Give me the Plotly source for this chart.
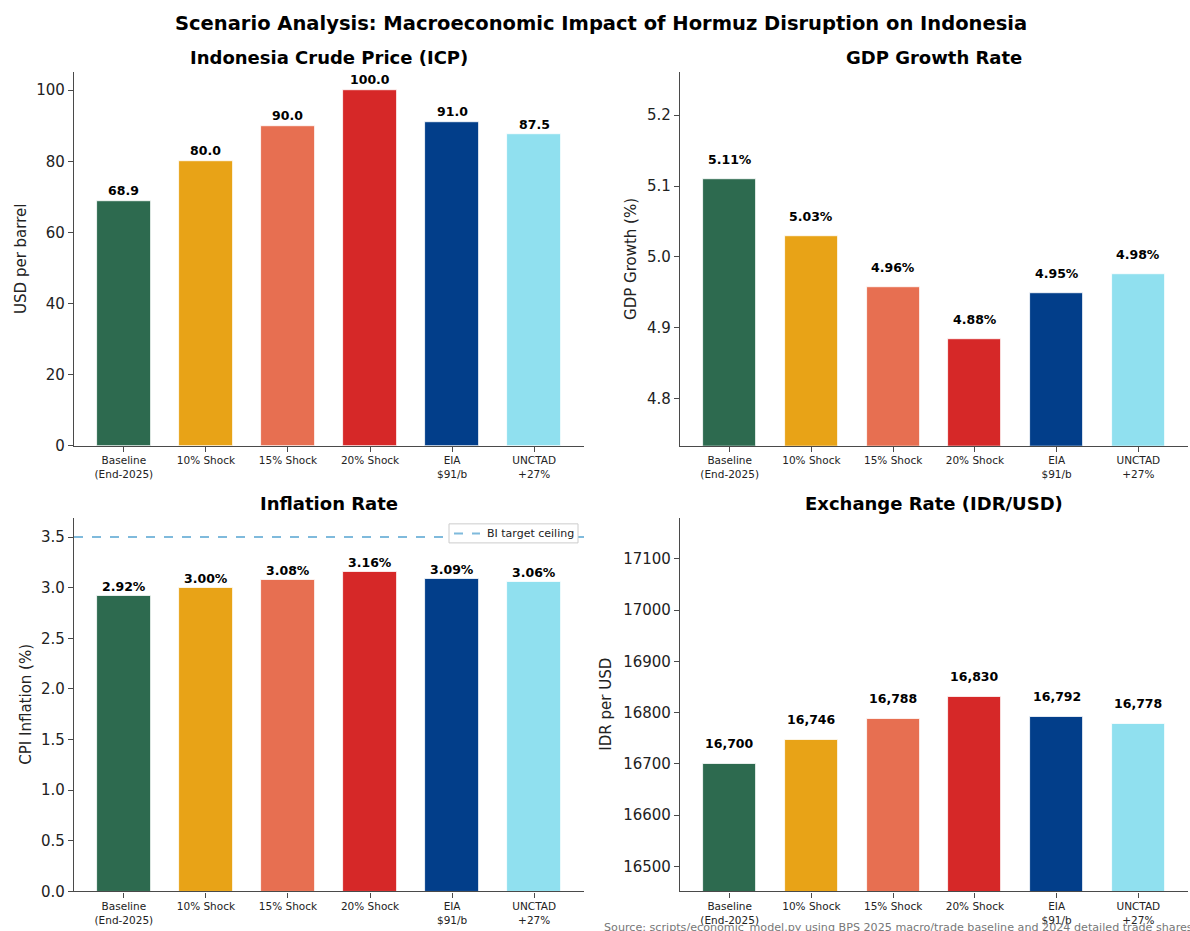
import plotly.graph_objects as go

# Scenario labels and colours
scenarios = ["Baseline<br>(End-2025)", "10% Shock", "15% Shock", "20% Shock", "EIA<br>$91/b", "UNCTAD<br>+27%"]
colors = ["#2d6a4f", "#e8a317", "#e76f51", "#d62828", "#023e8a", "#90e0ef"]

# Model outputs per scenario
icp_price = [68.9, 80.0, 90.0, 100.0, 91.0, 87.5]
gdp_growth = [5.110, 5.030, 4.957, 4.884, 4.949, 4.976]
inflation = [2.92, 3.00, 3.08, 3.16, 3.09, 3.06]
fx_rate = [16700, 16746, 16788, 16830, 16792, 16778]
bi_target_ceiling = 3.5
bi_target_name = "BI target ceiling"

W, H = 1190, 942
VSCALE = 0.9888
FONT = "DejaVu Sans"
AXIS_COLOR = "#4a4a4a"
TARGET_COLOR = "#7fbadc"


def px_x(p):
    return p / W


def px_y(p):
    return 1 - (p / VSCALE) / H


xs = list(range(len(scenarios)))

fig = go.Figure()

panels = [
    # (values, axis suffix, x domain px, y domain px, y range, tick format, label fmt, label shift, title, y title, y title x px)
    (icp_price, "", (74, 584), (72, 445), [0, 105.07], "d", lambda v: f"{v:.1f}", 1,
     "Indonesia Crude Price (ICP)", "USD per barrel", 21),
    (gdp_growth, "2", (680, 1188), (72, 445), [4.7336, 5.2608], ".1f", lambda v: f"{v:.2f}%", 10,
     "GDP Growth Rate", "GDP Growth (%)", 631),
    (inflation, "3", (74, 584), (517, 890), [0, 3.69], ".1f", lambda v: f"{v:.2f}%", 0,
     "Inflation Rate", "CPI Inflation (%)", 26),
    (fx_rate, "4", (680, 1188), (517, 890), [16451, 17180], "d", lambda v: f"{v:,.0f}", 11,
     "Exchange Rate (IDR/USD)", "IDR per USD", 606),
]

annotations = []
for vals, sfx, (x0, x1), (ytop, ybot), yr, tfmt, fmt, shift, title, ytitle, ytx in panels:
    xa = "x" + sfx
    ya = "y" + sfx
    fig.add_trace(go.Bar(
        x=xs, y=vals, width=0.65, marker=dict(color=colors, line=dict(color="white", width=0.8)),
        xaxis=xa, yaxis=ya, showlegend=False,
    ))
    axis_common = dict(
        showline=True, linecolor=AXIS_COLOR, linewidth=1.2, showgrid=False, zeroline=False,
        ticks="outside", ticklen=5, tickcolor=AXIS_COLOR, tickwidth=1.2,
    )
    fig.layout["xaxis" + sfx] = dict(
        domain=[px_x(x0), px_x(x1)], anchor=ya, range=[-0.6075, 5.6075],
        tickmode="array", tickvals=xs, ticktext=scenarios,
        tickfont=dict(family=FONT, size=10.5, color="#222"), **axis_common,
    )
    fig.layout["yaxis" + sfx] = dict(
        domain=[px_y(ybot), px_y(ytop)], anchor=xa, range=yr, tickformat=tfmt,
        tickfont=dict(family=FONT, size=15, color="#222"), **axis_common,
    )
    for x, v in zip(xs, vals):
        annotations.append(dict(
            x=x, y=v, xref=xa, yref=ya, text=f"<b>{fmt(v)}</b>", showarrow=False,
            yanchor="bottom", yshift=shift, font=dict(family=FONT, size=12.5, color="black"),
        ))
    annotations.append(dict(
        x=px_x((x0 + x1) / 2), y=px_y(57 if ytop < 300 else 503), xref="paper", yref="paper",
        text=f"<b>{title}</b>", showarrow=False, xanchor="center", yanchor="middle",
        font=dict(family=FONT, size=18, color="black"),
    ))
    annotations.append(dict(
        x=px_x(ytx), y=px_y((ytop + ybot) / 2), xref="paper", yref="paper",
        text=ytitle, showarrow=False, textangle=-90, xanchor="center", yanchor="middle",
        font=dict(family=FONT, size=15, color="#222"),
    ))

# Bank Indonesia inflation target ceiling
fig.add_shape(
    type="line", xref="x3 domain", yref="y3", x0=0, x1=1, y0=bi_target_ceiling, y1=bi_target_ceiling,
    line=dict(color=TARGET_COLOR, width=2, dash="dash"),
)

# Legend box for the target line
fig.add_shape(
    type="rect", xref="paper", yref="paper",
    x0=px_x(449), x1=px_x(578), y0=px_y(542), y1=px_y(523),
    fillcolor="white", line=dict(color="#cccccc", width=1),
)
fig.add_shape(
    type="line", xref="paper", yref="paper",
    x0=px_x(454), x1=px_x(480), y0=px_y(532.5), y1=px_y(532.5),
    line=dict(color=TARGET_COLOR, width=2, dash="dash"),
)
annotations.append(dict(
    x=px_x(485), y=px_y(532.5), xref="paper", yref="paper", text=bi_target_name,
    showarrow=False, xanchor="left", yanchor="middle", font=dict(family=FONT, size=11, color="#222"),
))

annotations.append(dict(
    x=px_x(601), y=px_y(23), xref="paper", yref="paper",
    text="<b>Scenario Analysis: Macroeconomic Impact of Hormuz Disruption on Indonesia</b>",
    showarrow=False, xanchor="center", yanchor="middle", font=dict(family=FONT, size=19.5, color="black"),
))
annotations.append(dict(
    x=px_x(602), y=px_y(926), xref="paper", yref="paper",
    text="Source: scripts/economic_model.py using BPS 2025 macro/trade baseline and 2024 detailed trade shares",
    showarrow=False, xanchor="left", yanchor="middle", font=dict(family=FONT, size=11.15, color="#777"),
))

fig.update_layout(
    width=W, height=H, margin=dict(l=0, r=0, t=0, b=0),
    paper_bgcolor="white", plot_bgcolor="white",
    font=dict(family=FONT), annotations=annotations, bargap=0,
    showlegend=False,
)

fig.write_html("out.html")
